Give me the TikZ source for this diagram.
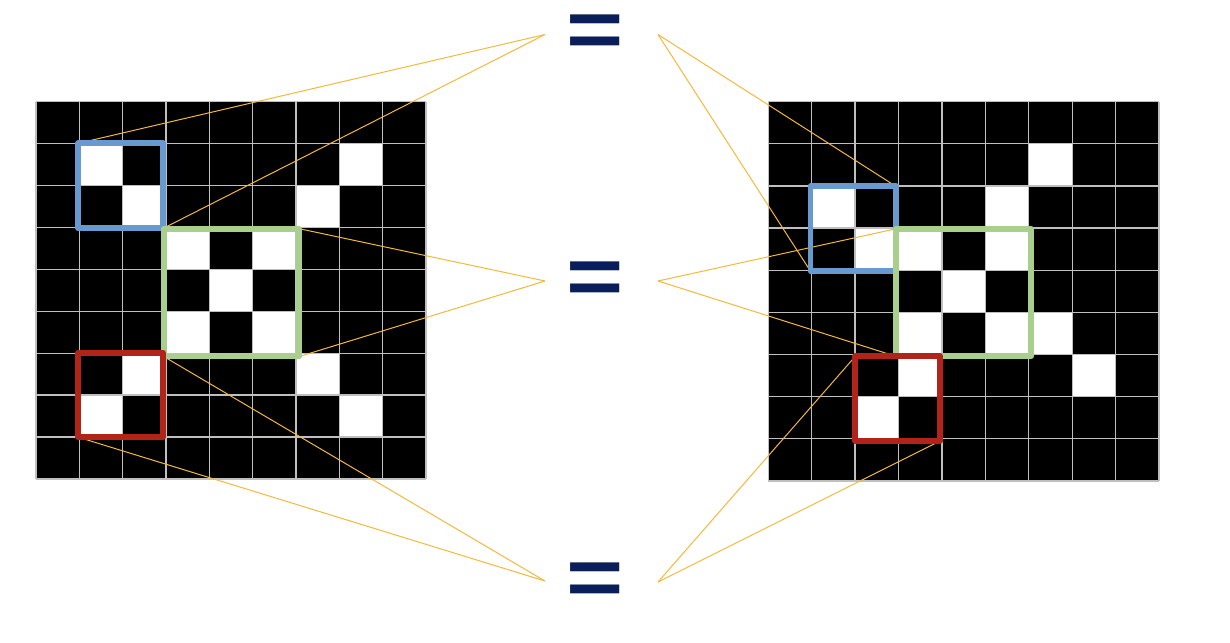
\documentclass[tikz,border=0pt]{standalone}
\usepackage{fontspec}
\setmainfont{Liberation Sans}
\definecolor{gridgray}{HTML}{BFBFBF}
\definecolor{linkyellow}{HTML}{F4B93A}
\definecolor{boxblue}{HTML}{6899CF}
\definecolor{boxgreen}{HTML}{A9CF8E}
\definecolor{boxred}{HTML}{B0241A}
\definecolor{eqnavy}{HTML}{0A1F5A}
\tikzset{
  gridline/.style={draw=gridgray, line width=1.3pt},
  link/.style={draw=linkyellow, line width=1pt},
  framebox/.style={line width=5.8pt, line join=round},
  eqsign/.style={inner sep=0pt, text=eqnavy, font=\fontsize{100}{100}\selectfont\bfseries},
}
\begin{document}
\begin{tikzpicture}[x=1pt,y=-1pt]
\useasboundingbox (0,0) rectangle (1230,642);
% left grid
\begin{scope}[shift={(36,101.7)},xscale=43.33,yscale=41.92]
  \fill[black] (0,0) rectangle (9,9);
  \foreach \c/\r in {1/1,7/1,2/2,6/2,3/3,5/3,4/4,3/5,5/5,2/6,6/6,1/7,7/7}
    \fill[white] (\c,\r) rectangle ++(1,1);
  \foreach \i in {0,...,9} {
    \draw[gridline] (\i,0) -- (\i,9);
    \draw[gridline] (0,\i) -- (9,\i);
  }
\end{scope}
% right grid
\begin{scope}[shift={(768.3,101.7)},xscale=43.41,yscale=42.14]
  \fill[black] (0,0) rectangle (9,9);
  \foreach \c/\r in {6/1,1/2,5/2,2/3,3/3,5/3,4/4,3/5,5/5,6/5,3/6,7/6,2/7}
    \fill[white] (\c,\r) rectangle ++(1,1);
  \foreach \i in {0,...,9} {
    \draw[gridline] (\i,0) -- (\i,9);
    \draw[gridline] (0,\i) -- (9,\i);
  }
\end{scope}
% equal signs
\node[eqsign] (eqA) at (594.7,36.2) {\scalebox{0.98}[0.82]{=}};
\node[eqsign] (eqB) at (594.7,283.2) {\scalebox{0.98}[0.82]{=}};
\node[eqsign] (eqC) at (594.7,584.2) {\scalebox{0.98}[0.82]{=}};
% apex points
\coordinate (aAL) at (545,34.5);
\coordinate (aAR) at (658,34.5);
\coordinate (aBL) at (545,281);
\coordinate (aBR) at (658,281);
\coordinate (aCL) at (545,581);
\coordinate (aCR) at (658,582);
% box corners, left
\coordinate (LbTL) at (78.3,143.3);  \coordinate (LbBR) at (163.3,228.3);
\coordinate (LgTL) at (163.7,228.7); \coordinate (LgBR) at (299.3,356.5);
\coordinate (LgTR) at (299.3,228.7); \coordinate (LgBL) at (163.7,356.5);
\coordinate (LrTL) at (78.3,352.8);  \coordinate (LrBR) at (163,437.2);
\coordinate (LrBL) at (78.3,437.2);
% box corners, right
\coordinate (RbTL) at (810.5,186.2); \coordinate (RbBR) at (895.7,271.2);
\coordinate (RbTR) at (895.7,186.2); \coordinate (RbBL) at (810.5,271.2);
\coordinate (RgTL) at (895.8,228.8); \coordinate (RgBR) at (1031.2,356.3);
\coordinate (RgBL) at (895.8,356.3);
\coordinate (RrTL) at (855.3,356.3); \coordinate (RrBR) at (940,441);
% connectors
\draw[link] (aAL) -- (LbTL);
\draw[link] (aAL) -- (LbBR);
\draw[link] (aBL) -- (LgTR);
\draw[link] (aBL) -- (LgBR);
\draw[link] (aCL) -- (LgBL);
\draw[link] (aCL) -- (LrBL);
\draw[link] (aAR) -- (RbTR);
\draw[link] (aAR) -- (RbBL);
\draw[link] (aBR) -- (RgTL);
\draw[link] (aBR) -- (RgBL);
\draw[link] (aCR) -- (RrTL);
\draw[link] (aCR) -- (RrBR);
% frames
\draw[framebox, boxblue] (LbTL) rectangle (LbBR);
\draw[framebox, boxgreen] (LgTL) rectangle (LgBR);
\draw[framebox, boxred] (LrTL) rectangle (LrBR);
\draw[framebox, boxblue] (RbTL) rectangle (RbBR);
\draw[framebox, boxgreen] (RgTL) rectangle (RgBR);
\draw[framebox, boxred] (RrTL) rectangle (RrBR);
\end{tikzpicture}
\end{document}
